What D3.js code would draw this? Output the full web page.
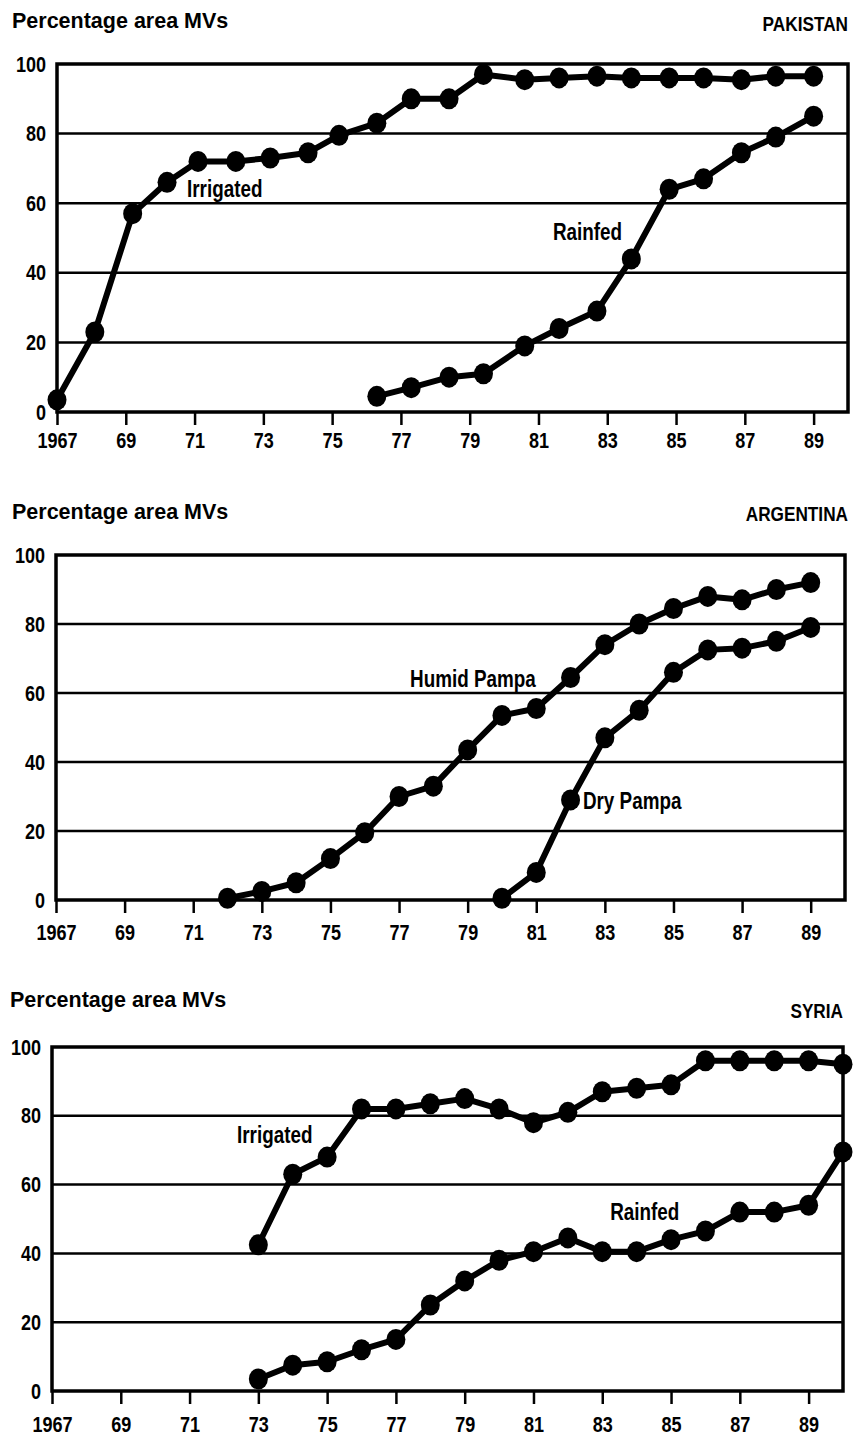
<!DOCTYPE html>
<html>
<head>
<meta charset="utf-8">
<script src="https://cdn.jsdelivr.net/npm/d3@7"></script>
<style>
  body { margin: 0; background: #fff; }
  svg text { fill: #000; }
</style>
</head>
<body>
<svg id="chart" width="853" height="1441"></svg>
<script>
// tick labels
const xTicks = [1967, 1969, 1971, 1973, 1975, 1977, 1979, 1981, 1983, 1985, 1987, 1989];
const xTickLabels = ["1967", "69", "71", "73", "75", "77", "79", "81", "83", "85", "87", "89"];
const yTicks = [0, 20, 40, 60, 80, 100];

// Pakistan (points sit a little off the year ticks in the original)
const pakYears = [1967, 1968.1, 1969.2, 1970.2, 1971.1, 1972.2, 1973.2, 1974.3, 1975.2, 1976.3, 1977.3,
  1978.4, 1979.4, 1980.6, 1981.6, 1982.7, 1983.7, 1984.8, 1985.8, 1986.9, 1987.9, 1989];
const pakIrrigated = [3.5, 23, 57, 66, 72, 72, 73, 74.5, 79.5, 83, 90, 90, 97, 95.5, 96, 96.5, 96, 96, 96, 95.5, 96.5, 96.5];
const pakRainfedYears = pakYears.slice(9);
const pakRainfed = [4.5, 7, 10, 11, 19, 24, 29, 44, 64, 67, 74.5, 79, 85];

// Argentina
const argHumidYears = [1972, 1973, 1974, 1975, 1976, 1977, 1978, 1979, 1980, 1981, 1982, 1983, 1984, 1985, 1986, 1987, 1988, 1989];
const argHumid = [0.5, 2.5, 5, 12, 19.5, 30, 33, 43.5, 53.5, 55.5, 64.5, 74, 80, 84.5, 88, 87, 90, 92];
const argDryYears = [1980, 1981, 1982, 1983, 1984, 1985, 1986, 1987, 1988, 1989];
const argDry = [0.5, 8, 29, 47, 55, 66, 72.5, 73, 75, 79];

// Syria
const syrYears = [1973, 1974, 1975, 1976, 1977, 1978, 1979, 1980, 1981, 1982, 1983, 1984, 1985, 1986, 1987, 1988, 1989, 1990];
const syrIrrigated = [42.5, 63, 68, 82, 82, 83.5, 85, 82, 78, 81, 87, 88, 89, 96, 96, 96, 96, 95];
const syrRainfed = [3.5, 7.5, 8.5, 12, 15, 25, 32, 38, 40.5, 44.5, 40.5, 40.5, 44, 46.5, 52, 52, 54, 69.5];

const FONT = '"Liberation Sans", Arial, sans-serif';
const NARROW = 0.82; // no condensed face installed, so squeeze the glyphs
const svg = d3.select("#chart");

const zip = (xs, vs) => xs.map((x, i) => ({ year: x, value: vs[i] }));

// squeeze text horizontally around its own x position
const narrow = (sel, k = NARROW) =>
  sel.each(function () {
    const t = d3.select(this);
    const x0 = +t.attr("x") || 0;
    t.attr("x", 0).attr("transform", `translate(${x0},0) scale(${k},1)`);
  });

const panels = [
  {
    country: "PAKISTAN", left: 57, right: 848, top: 64, bottom: 412,
    titleX: 12, titleY: 28, countryX: 848, countryY: 31, tickLabelY: 448,
    series: [
      { pts: zip(pakYears, pakIrrigated), label: "Irrigated", at: [1970.78, 61.8] },
      { pts: zip(pakRainfedYears, pakRainfed), label: "Rainfed", at: [1981.42, 49.4] }
    ]
  },
  {
    country: "ARGENTINA", left: 56, right: 845, top: 555, bottom: 900,
    titleX: 12, titleY: 519, countryX: 848, countryY: 521, tickLabelY: 940,
    series: [
      { pts: zip(argHumidYears, argHumid), label: "Humid Pampa", at: [1977.32, 61.7] },
      { pts: zip(argDryYears, argDry), label: "Dry Pampa", at: [1982.36, 26.4] }
    ]
  },
  {
    country: "SYRIA", left: 52, right: 843, top: 1047, bottom: 1391,
    titleX: 10, titleY: 1007, countryX: 843, countryY: 1018, tickLabelY: 1432,
    series: [
      { pts: zip(syrYears, syrIrrigated), label: "Irrigated", at: [1972.38, 72.1] },
      { pts: zip(syrYears, syrRainfed), label: "Rainfed", at: [1983.23, 49.7] }
    ]
  }
];

panels.forEach((p) => {
  const x = d3.scaleLinear().domain([1967, 1990]).range([p.left, p.right]);
  const y = d3.scaleLinear().domain([0, 100]).range([p.bottom, p.top]);
  const g = svg.append("g");

  // titles
  g.append("text")
    .attr("x", p.titleX).attr("y", p.titleY)
    .attr("font-family", FONT).attr("font-weight", "bold").attr("font-size", 21.5)
    .text("Percentage area MVs");
  g.append("text")
    .attr("x", p.countryX).attr("y", p.countryY)
    .attr("text-anchor", "end")
    .attr("font-family", FONT).attr("font-weight", "bold").attr("font-size", 21)
    .text(p.country)
    .call(narrow);

  // grid lines
  g.selectAll("line.grid")
    .data(yTicks.filter((t) => t > 0 && t < 100))
    .join("line")
    .attr("class", "grid")
    .attr("x1", p.left).attr("x2", p.right)
    .attr("y1", (d) => y(d)).attr("y2", (d) => y(d))
    .attr("stroke", "#000").attr("stroke-width", 2.5);

  // x axis: ticks below the frame
  const xAxis = g.append("g")
    .attr("transform", `translate(0,${p.bottom})`)
    .call(d3.axisBottom(x).tickValues(xTicks)
      .tickFormat((d, i) => xTickLabels[i]).tickSize(13).tickPadding(0));
  xAxis.select(".domain").remove();
  xAxis.selectAll(".tick line").attr("stroke", "#000").attr("stroke-width", 2.5);
  xAxis.selectAll(".tick text")
    .attr("y", p.tickLabelY - p.bottom).attr("dy", null)
    .attr("font-family", FONT).attr("font-weight", "bold").attr("font-size", 22)
    .call(narrow);

  // y axis labels
  const yAxis = g.append("g")
    .attr("transform", `translate(${p.left},0)`)
    .call(d3.axisLeft(y).tickValues(yTicks).tickSize(0).tickPadding(11));
  yAxis.select(".domain").remove();
  yAxis.selectAll(".tick text")
    .attr("font-family", FONT).attr("font-weight", "bold").attr("font-size", 22)
    .call(narrow);

  // frame
  g.append("rect")
    .attr("x", p.left).attr("y", p.top)
    .attr("width", p.right - p.left).attr("height", p.bottom - p.top)
    .attr("fill", "none").attr("stroke", "#000").attr("stroke-width", 3.5);

  const line = d3.line().x((d) => x(d.year)).y((d) => y(d.value));

  p.series.forEach((s) => {
    g.append("path")
      .datum(s.pts)
      .attr("d", line)
      .attr("fill", "none").attr("stroke", "#000")
      .attr("stroke-width", 6).attr("stroke-linejoin", "round");
    g.selectAll(null)
      .data(s.pts)
      .join("ellipse")
      .attr("cx", (d) => x(d.year)).attr("cy", (d) => y(d.value))
      .attr("rx", 9.5).attr("ry", 10.5)
      .attr("fill", "#000");
    g.append("text")
      .attr("x", x(s.at[0])).attr("y", y(s.at[1]))
      .attr("font-family", FONT).attr("font-weight", "bold").attr("font-size", 23)
      .text(s.label)
      .call(narrow);
  });
});
</script>
</body>
</html>
